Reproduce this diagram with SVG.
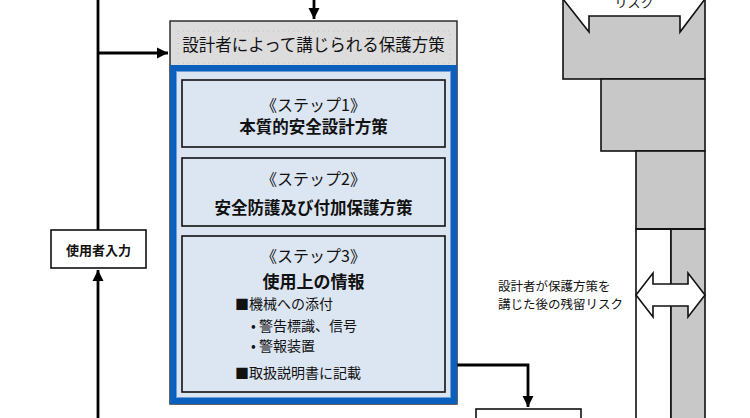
<svg xmlns="http://www.w3.org/2000/svg" width="750" height="418" viewBox="0 0 750 418">
<style>
text{font-family:"Noto Sans CJK JP","Noto Sans",sans-serif;fill:#111;}
.c{text-anchor:middle;dominant-baseline:central;}
.b{font-weight:bold;}
.step{fill:#dce6f2;stroke:#111;stroke-width:1.6;}
.gray{fill:#c8c8c8;stroke:#111;stroke-width:1.6;}
.con{fill:none;stroke:#000;stroke-width:2.8;}
</style>
<defs>
<marker id="ah" markerUnits="userSpaceOnUse" markerWidth="12" markerHeight="12" viewBox="0 0 12 12" refX="11" refY="6" orient="auto">
<path d="M0,0.5 L11,6 L0,11.5 Z" fill="#000"/>
</marker>
</defs>
<g id="connectors">
<path class="con" d="M98,0 V230"/>
<path class="con" d="M98,53 H168" marker-end="url(#ah)"/>
<path class="con" d="M98,418 V270" marker-end="url(#ah)"/>
<path class="con" d="M314,0 V19" marker-end="url(#ah)"/>
<path class="con" d="M457,365 H528 V407" marker-end="url(#ah)"/>
</g>
<g id="user-input">
<rect x="51" y="230" width="95" height="38" fill="#fff" stroke="#111" stroke-width="1.6"/>
<text class="c b" x="98.5" y="249" font-size="13">使用者入力</text>
</g>
<g id="protective-measures">
<rect x="170" y="21" width="287" height="383" fill="#dcdcdc" stroke="#222" stroke-width="1.4"/>
<rect x="178" y="31" width="272" height="32" fill="none" stroke="#b8b8b8" stroke-width="0.8" stroke-dasharray="1,4"/>
<text class="c" x="313.5" y="44" font-size="16.5">設計者によって講じられる保護方策</text>
<rect x="173" y="68" width="281" height="333" fill="#dbe5f1" stroke="#0b5fbd" stroke-width="6"/>
<rect x="176.5" y="71.5" width="274" height="326" fill="none" stroke="#6f9fd8" stroke-width="1"/>
</g>
<g id="step1">
<rect class="step" x="182" y="80" width="263" height="67"/>
<text class="c" x="313.5" y="104" font-size="16">《ステップ1》</text>
<text class="c b" x="313.5" y="126" font-size="16.5">本質的安全設計方策</text>
</g>
<g id="step2">
<rect class="step" x="182" y="158" width="263" height="68"/>
<text class="c" x="313.5" y="178" font-size="16">《ステップ2》</text>
<text class="c b" x="313.5" y="207" font-size="16.5">安全防護及び付加保護方策</text>
</g>
<g id="step3">
<rect class="step" x="182" y="236" width="263" height="156"/>
<text class="c" x="313.5" y="255" font-size="16">《ステップ3》</text>
<text class="c b" x="313.5" y="280" font-size="17">使用上の情報</text>
<text x="235" y="303" dominant-baseline="central" font-size="14">■機械への添付</text>
<text x="251" y="325" dominant-baseline="central" font-size="14">• 警告標識、信号</text>
<text x="251" y="345" dominant-baseline="central" font-size="14">• 警報装置</text>
<text x="235" y="372" dominant-baseline="central" font-size="14">■取扱説明書に記載</text>
</g>
<g id="bottom-box">
<rect x="476" y="409" width="105" height="20" fill="#fff" stroke="#111" stroke-width="1.6"/>
</g>
<g id="risk-column">
<rect class="gray" x="563" y="-2" width="142" height="81"/>
<polygon points="563,-1 589,32 589,16 680,16 680,32 705,-1" fill="#fff" stroke="#111" stroke-width="1.6"/>
<text class="c" x="634" y="1" font-size="13">リスク</text>
<rect class="gray" x="601" y="79" width="104" height="72"/>
<rect class="gray" x="636" y="151" width="69" height="78"/>
<rect x="636" y="229" width="35" height="200" fill="#fff" stroke="#111" stroke-width="1.6"/>
<rect class="gray" x="671" y="229" width="34" height="200"/>
<line x1="636" y1="229" x2="705" y2="229" stroke="#111" stroke-width="2.2"/>
</g>
<g id="residual-risk">
<polygon points="636,295 653,273 653,284 688,284 688,273 705,295 688,317 688,306 653,306 653,317" fill="#fff" stroke="#111" stroke-width="1.6" stroke-linejoin="miter"/>
<text x="498" y="285" dominant-baseline="central" font-size="12.5">設計者が保護方策を</text>
<text x="498" y="303" dominant-baseline="central" font-size="12.5">講じた後の残留リスク</text>
</g>
</svg>
